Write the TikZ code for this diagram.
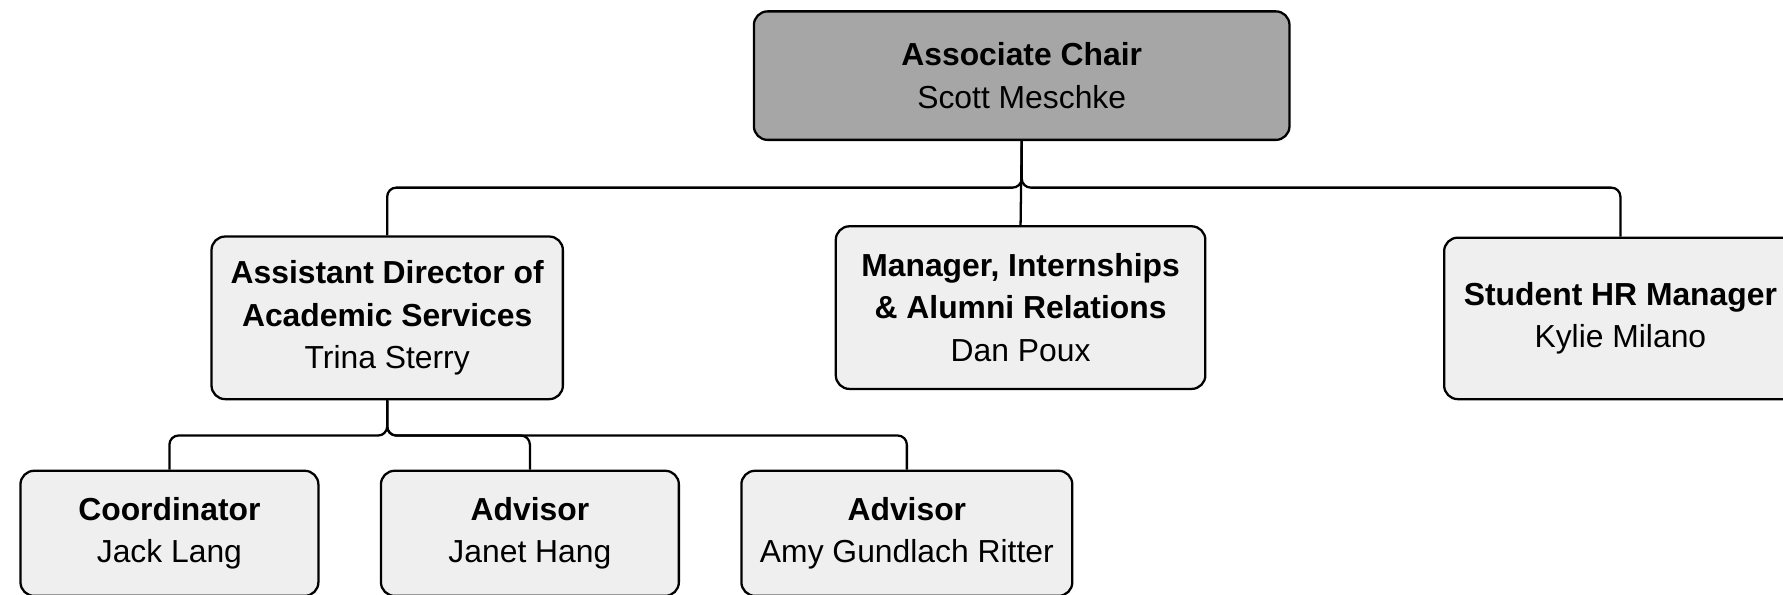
\documentclass[tikz,border=0pt]{standalone}
\usepackage{fontspec}
\setmainfont{Liberation Sans}
\begin{document}
\begin{tikzpicture}[x=1pt,y=-1pt,
  box/.style={draw=black, line width=2pt, rounded corners=12pt, fill=boxgray,
    align=center, inner sep=0pt, font=\fontsize{28}{37}\selectfont},
  headbox/.style={box, fill=headgray},
  conn/.style={draw=black, line width=2pt, rounded corners=8pt}]
\definecolor{boxgray}{HTML}{EFEFEF}
\definecolor{headgray}{HTML}{A6A6A6}
\useasboundingbox (0,0) rectangle (1568,523);
\node[headbox, minimum width=471pt, minimum height=113pt] (top) at (898.5,66.5)
  {{\bfseries Associate Chair}\\Scott Meschke};
\node[box, minimum width=309pt, minimum height=143pt] (asst) at (340.5,279.5)
  {{\bfseries Assistant Director of}\\{\bfseries Academic Services}\\Trina Sterry};
\node[box, minimum width=325pt, minimum height=143pt] (mgr) at (897.5,270.5)
  {{\bfseries Manager, Internships}\\{\bfseries \& Alumni Relations}\\Dan Poux};
\node[box, minimum width=310pt, minimum height=142pt] (hr) at (1425,280)
  {{\bfseries Student HR Manager}\\Kylie Milano};
\node[box, minimum width=262pt, minimum height=110pt] (coord) at (149,469)
  {{\bfseries Coordinator}\\Jack Lang};
\node[box, minimum width=262pt, minimum height=110pt] (janet) at (466,469)
  {{\bfseries Advisor}\\Janet Hang};
\node[box, minimum width=291pt, minimum height=110pt] (amy) at (797.5,469)
  {{\bfseries Advisor}\\Amy Gundlach Ritter};
\coordinate (bus1) at (0,165);
\coordinate (bus2) at (0,383);
\draw[conn] (top.south) -- (mgr.north);
\draw[conn] (top.south) |- (asst.north |- bus1) -- (asst.north);
\draw[conn] (top.south) |- (hr.north |- bus1) -- (hr.north);
\draw[conn] (asst.south) |- (coord.north |- bus2) -- (coord.north);
\draw[conn] (asst.south) |- (janet.north |- bus2) -- (janet.north);
\draw[conn] (asst.south) |- (amy.north |- bus2) -- (amy.north);
\end{tikzpicture}
\end{document}
